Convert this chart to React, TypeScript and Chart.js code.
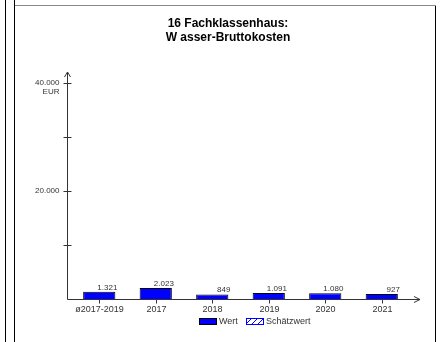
import React, { useEffect, useRef } from "react";
import { Chart, registerables } from "chart.js";

Chart.register(...registerables);

const titleLines = ["16 Fachklassenhaus:", "W asser-Bruttokosten"];
const categories = ["ø2017-2019", "2017", "2018", "2019", "2020", "2021"];
const wertValues = [1321, 2023, 849, 1091, 1080, 927];
const schaetzValues: (number | null)[] = [null, null, null, null, null, null];
const yTickValues = [0, 10000, 20000, 30000, 40000];
const yTickLabels: Record<number, string[]> = { 20000: ["20.000"], 40000: ["40.000", "EUR"] };
const legendLabels = ["Wert", "Schätzwert"];

const fmt = (v: number) => String(Math.round(v)).replace(/\B(?=(\d{3})+(?!\d))/g, ".");

function makePattern(): CanvasPattern | string {
  const c = document.createElement("canvas");
  c.width = 6;
  c.height = 6;
  const g = c.getContext("2d");
  if (!g) return "#ffffff";
  g.fillStyle = "#ffffff";
  g.fillRect(0, 0, 6, 6);
  g.strokeStyle = "#0000ff";
  g.lineWidth = 1;
  g.beginPath();
  g.moveTo(0, 6);
  g.lineTo(6, 0);
  g.stroke();
  return g.createPattern(c, "repeat") || "#ffffff";
}

const FONT = "'Liberation Sans', Arial, sans-serif";

const drawPlugin = {
  id: "customDraw",
  afterDraw(chart: any) {
    const ctx: CanvasRenderingContext2D = chart.ctx;
    const x = chart.scales.x;
    const y = chart.scales.y;
    const area = chart.chartArea;
    ctx.save();

    // frame
    ctx.lineWidth = 1;
    ctx.strokeStyle = "#000000";
    ctx.beginPath();
    ctx.moveTo(5.5, 0);
    ctx.lineTo(5.5, 342);
    ctx.moveTo(14.5, 0);
    ctx.lineTo(14.5, 342);
    ctx.moveTo(435.5, 5);
    ctx.lineTo(435.5, 342);
    ctx.stroke();
    ctx.strokeStyle = "#8a8a8a";
    ctx.beginPath();
    ctx.moveTo(15, 5.5);
    ctx.lineTo(436, 5.5);
    ctx.stroke();

    // title
    ctx.fillStyle = "#000000";
    ctx.font = `bold 12px ${FONT}`;
    ctx.textAlign = "center";
    ctx.textBaseline = "middle";
    titleLines.forEach((t, i) => ctx.fillText(t, 228, 24 + i * 13.5));

    // axes
    const y0 = Math.round(y.getPixelForValue(0)) + 0.5;
    const ax = Math.round(area.left - 4) + 0.5;
    ctx.strokeStyle = "#333333";
    ctx.beginPath();
    ctx.moveTo(ax, y0);
    ctx.lineTo(ax, 72);
    ctx.moveTo(ax - 3, 77);
    ctx.lineTo(ax, 72);
    ctx.lineTo(ax + 3, 77);
    ctx.moveTo(ax, y0);
    ctx.lineTo(420, y0);
    ctx.moveTo(414, y0 - 3);
    ctx.lineTo(420, y0);
    ctx.lineTo(414, y0 + 3);
    ctx.stroke();

    // y ticks
    ctx.font = `8px ${FONT}`;
    ctx.fillStyle = "#333333";
    ctx.textAlign = "right";
    yTickValues.forEach((v) => {
      if (v === 0) return;
      const py = Math.round(y.getPixelForValue(v)) + 0.5;
      ctx.beginPath();
      ctx.moveTo(ax - 4, py);
      ctx.lineTo(ax + 4, py);
      ctx.stroke();
      const lbl = yTickLabels[v];
      if (lbl) lbl.forEach((s, i) => ctx.fillText(s, ax - 8, py - 1 + i * 9));
    });

    // x ticks + labels
    ctx.font = `9px ${FONT}`;
    ctx.textAlign = "center";
    categories.forEach((c, i) => {
      const px = Math.round(x.getPixelForValue(i)) + 0.5;
      ctx.beginPath();
      ctx.moveTo(px, y0);
      ctx.lineTo(px, y0 + 4);
      ctx.stroke();
      ctx.fillText(c, px, 310);
    });

    // value labels
    ctx.font = `8px ${FONT}`;
    ctx.textAlign = "right";
    ctx.textBaseline = "alphabetic";
    const meta = chart.getDatasetMeta(0);
    meta.data.forEach((bar: any, i: number) => {
      const v = wertValues[i];
      ctx.fillText(fmt(v), bar.x + bar.width / 2 + 2, bar.y - 2);
    });

    // legend
    ctx.font = `9px ${FONT}`;
    ctx.textAlign = "left";
    ctx.textBaseline = "middle";
    const items = [
      { x: 199, label: chart.data.datasets[0].label, fill: chart.data.datasets[0].backgroundColor },
      { x: 246, label: chart.data.datasets[1].label, fill: chart.data.datasets[1].backgroundColor },
    ];
    items.forEach((it, i) => {
      ctx.fillStyle = it.fill;
      ctx.fillRect(it.x, 319, 18, 5);
      ctx.strokeStyle = i === 0 ? "#000000" : "#0000ff";
      ctx.strokeRect(it.x + 0.5, 318.5, 17, 6);
      ctx.fillStyle = "#333333";
      ctx.fillText(it.label, it.x + 20, 322);
    });

    ctx.restore();
  },
};

export default function App() {
  const ref = useRef<HTMLCanvasElement>(null);
  useEffect(() => {
    document.body.style.margin = "0";
    if (!ref.current) return;
    const chart = new Chart(ref.current, {
      type: "bar",
      data: {
        labels: categories,
        datasets: [
          {
            label: legendLabels[0],
            data: wertValues,
            backgroundColor: "#0000ff",
            borderColor: "#000000",
            borderWidth: 1,
            grouped: false,
            categoryPercentage: 1,
            barPercentage: 0.57,
          } as any,
          {
            label: legendLabels[1],
            data: schaetzValues,
            backgroundColor: makePattern(),
            borderColor: "#0000ff",
            borderWidth: 1,
            grouped: false,
            categoryPercentage: 1,
            barPercentage: 0.57,
          } as any,
        ],
      },
      options: {
        animation: false,
        responsive: true,
        maintainAspectRatio: false,
        layout: { padding: { left: 71, right: 30, top: 83, bottom: 43 } },
        plugins: { legend: { display: false }, title: { display: false }, tooltip: { enabled: false } },
        scales: {
          x: { type: "category", display: false, offset: true },
          y: { display: false, min: 0, max: 40000 },
        },
      },
      plugins: [drawPlugin],
    });
    return () => chart.destroy();
  }, []);
  return (
    <div style={{ position: "absolute", left: 0, top: 0, width: 440, height: 342 }}>
      <canvas ref={ref} />
    </div>
  );
}
